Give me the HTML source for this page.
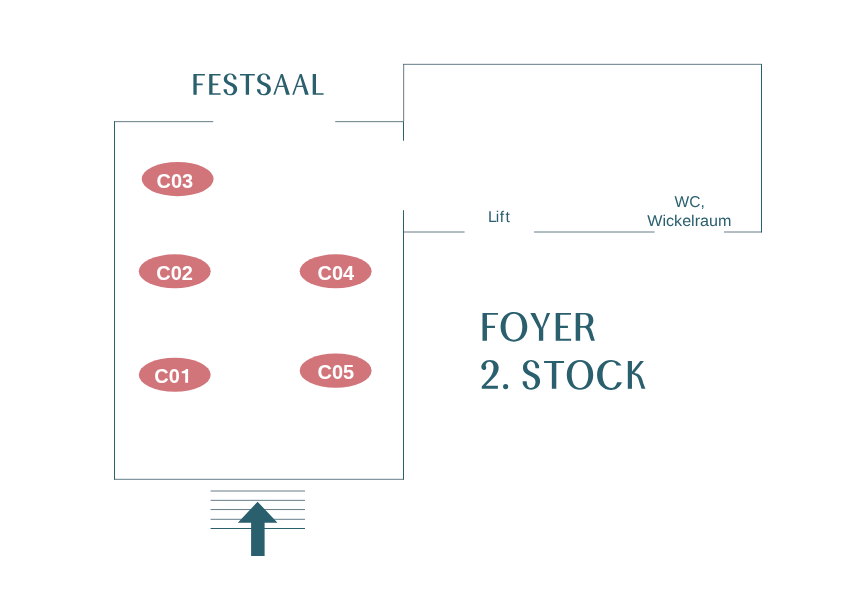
<!DOCTYPE html>
<html lang="de">
<head>
<meta charset="utf-8">
<title>Festsaal / Foyer 2. Stock</title>
<style>
  html, body { margin: 0; padding: 0; background: #ffffff; }
  body { width: 842px; height: 595px; overflow: hidden; font-family: "Liberation Sans", sans-serif; }
  svg { display: block; position: absolute; left: 0; top: 0; will-change: transform; }
  .ln { stroke: #325161; stroke-width: 0.75; fill: none; }
  .dk { stroke: #2a5f6e; stroke-width: 1; fill: none; }
  .pin { fill: #d1757a; }
  .pt { font-family: "Liberation Sans", sans-serif; font-weight: bold; font-size: 20px; fill: #ffffff; }
  .lb { font-family: "Liberation Sans", sans-serif; font-size: 15.6px; fill: #2a5f6e; text-rendering: geometricPrecision; }
  .hd { fill: #2a5f6e; fill-rule: evenodd; }
</style>
</head>
<body>
<svg width="842" height="595" viewBox="0 0 842 595">
  <defs>
    <g id="g70"><path d="M0,-100H56V-93H16V-54H45V-46H16V0H0Z"/></g>
    <g id="g69"><path d="M0,-100H55V-93H16V-54H44V-46H16V-7H55.5V0H0Z"/></g>
    <g id="g76"><path d="M0,-100H16V-7H53V0H0Z"/></g>
    <g id="g84"><path d="M0,-100H72V-93H44V0H28V-93H0Z"/></g>
    <g id="g65"><path d="M0,0L37,-100L46,-100L80.5,0L62.5,0L52.4,-37L21.9,-37L9,0Z M39,-86L50.5,-44L24.4,-44Z"/></g>
    <g id="g83"><path d="M59,-74L59,-83C54,-96 44,-103.5 31,-103.5C13,-103.5 1,-92 1,-76C1,-60 12,-53 27,-46C40,-40 46,-35 46,-25C46,-12 40,-3 29,-3C20,-3 15,-10 14.5,-27L0,-27L0,-19C4,-6 14,3 30,3C49,3 62.5,-9 62.5,-28C62.5,-44 52,-51 37,-58C23,-64 16,-68 16,-78C16,-90 22,-98 31,-98C40,-98 45,-90 46,-74Z"/></g>
    <g id="g79"><path d="M48,-103.5C76,-103.5 96,-82 96,-50C96,-18 76,3.5 48,3.5C20,3.5 0,-18 0,-50C0,-82 20,-103.5 48,-103.5ZM48,-97C29.5,-97 17.8,-78 17.8,-50C17.8,-22 29.5,-3 48,-3C66.5,-3 78.2,-22 78.2,-50C78.2,-78 66.5,-97 48,-97Z"/></g>
    <g id="g67"><path d="M88,-84C80,-96 67,-103.8 51,-103.8C21,-103.8 0,-82 0,-50C0,-18 21,3.9 51,3.9C68,3.9 81,-4 89.5,-23.5L72,-23.5C68,-10 62,-3 53,-3C32,-3 19.8,-22 19.8,-50C19.8,-78 32,-97 53,-97C61,-97 67,-92 70,-84Z"/></g>
    <g id="g89"><path d="M0,-100H17.5L41.5,-47L59.5,-100H71.5L46.5,-43.5V0H31V-42.5Z"/></g>
    <g id="g82"><path d="M0,-100H34C53,-100 63.5,-90 63.5,-74C63.5,-58 52,-46.5 34,-46.5H16V0H0ZM16,-94V-53H30C41,-53 47,-60 47,-73C47,-86 41,-94 30,-94Z"/><path d="M33,-53L44,-53C50,-50 54,-44 56,-39C59,-32 61,-25 62.5,-19.5L69,0H55.5L51.5,-11C49,-20 47,-26 45,-30.5C42,-38 38,-44 33,-47Z"/></g>
    <g id="g75"><path d="M0,-100H15V0H0Z"/><path d="M44.8,-100H58L22,-55L15,-53V-62Z"/><path d="M15,-53C22,-50 27,-48 30.7,-46C35,-43 37.5,-36 39.4,-31C42,-24 44,-17 46,-11L49.5,0H63.5L55.7,-20C53,-30 51,-37 48,-42C45,-47 41,-51 37,-53C31,-56 25,-57.5 18.7,-58L15,-58Z"/></g>
    <g id="g50"><path d="M0.7,-78C0.7,-92 14,-103.8 31,-103.8C51,-103.8 63,-92 63,-76C63,-62 56,-52 48.5,-43C40,-33 29,-23 16.3,-11.3H60.3V0H2.2V-9L3.3,-10.2C15,-22 23,-30 27,-35.3C36,-46 44.6,-60 44.6,-76C44.6,-89 38,-97.3 29,-97.3C22,-97.3 17,-92 16,-84C18,-80 19,-76 17.5,-72C16,-68 12,-67 8,-68C3,-69.5 0.7,-73 0.7,-78Z"/></g>
    <g id="g46"><path d="M9.5,-17.3A9.3,9.3 0 1 1 9.5,1.3A9.3,9.3 0 1 1 9.5,-17.3Z"/></g>
  </defs>
  <!-- Festsaal room -->
  <g id="festsaal">
    <line class="dk" x1="114.5" y1="121.3" x2="114.5" y2="479.6"/>
    <line class="ln" x1="114" y1="121.65" x2="213.2" y2="121.65"/>
    <line class="ln" x1="335.2" y1="121.65" x2="403.5" y2="121.65"/>
    <line class="dk" x1="403.5" y1="121.3" x2="403.5" y2="140.7"/>
    <line class="dk" x1="403.5" y1="210.2" x2="403.5" y2="479.6"/>
    <line class="ln" x1="114" y1="479.3" x2="404" y2="479.3"/>
  </g>
  <!-- Foyer side room -->
  <g id="room">
    <line class="ln" x1="403.67" y1="64.1" x2="403.67" y2="121.3"/>
    <line class="ln" x1="403.1" y1="64.33" x2="762" y2="64.33"/>
    <line class="dk" x1="761.5" y1="64.1" x2="761.5" y2="232.4"/>
    <line class="ln" x1="403.5" y1="232" x2="464.6" y2="232"/>
    <line class="ln" x1="534" y1="232" x2="654.6" y2="232"/>
    <line class="ln" x1="724.1" y1="232" x2="762" y2="232"/>
  </g>
  <!-- Stairs -->
  <g id="stairs">
    <line class="ln" x1="210.6" y1="491" x2="305" y2="491"/>
    <line class="ln" x1="210.6" y1="500.35" x2="305" y2="500.35"/>
    <line class="ln" x1="210.6" y1="509.55" x2="305" y2="509.55"/>
    <line class="ln" x1="210.6" y1="519.3" x2="305" y2="519.3"/>
    <line class="dk" x1="210.6" y1="528.5" x2="305" y2="528.5"/>
    <polygon fill="#2a5f6e" points="257.6,501.7 277.5,522.8 264.6,522.8 264.6,556 251.1,556 251.1,522.8 237.8,522.8"/>
  </g>
  <!-- Pins -->
  <g id="pins">
    <ellipse class="pin" cx="177.65" cy="179.05" rx="35.95" ry="17.1"/>
    <ellipse class="pin" cx="174.75" cy="271.35" rx="35.95" ry="17"/>
    <ellipse class="pin" cx="174.75" cy="374.7" rx="35.95" ry="17"/>
    <ellipse class="pin" cx="335.65" cy="271.35" rx="35.95" ry="17"/>
    <ellipse class="pin" cx="335.65" cy="370.65" rx="35.95" ry="17.1"/>
    <text class="pt" x="174.8" y="188.2" text-anchor="middle">C03</text>
    <text class="pt" x="174.6" y="280.2" text-anchor="middle">C02</text>
    <text class="pt" x="154.26" y="383.3">C0</text>
    <path fill="#ffffff" d="M188.1,369.1V382.8H185.2V373.2H181.7V371.4C183.6,371.2 185.4,370.5 186.0,369.1Z"><title>1</title></path>
    <text class="pt" x="335.9" y="280.2" text-anchor="middle">C04</text>
    <text class="pt" x="335.8" y="378.8" text-anchor="middle">C05</text>
  </g>
  <!-- Labels -->
  <g id="labels">
    <text class="lb" x="487.96 495.66 499.76 505.5" y="222.1">Lift</text>
    <text class="lb" x="674.5" y="206.7" textLength="30.2" lengthAdjust="spacingAndGlyphs">WC,</text>
    <text class="lb" x="647.2" y="225.8" textLength="84.3" lengthAdjust="spacingAndGlyphs">Wickelraum</text>
  </g>
  <!-- Headings: FESTSAAL / FOYER / 2. STOCK drawn as vector glyphs -->
  <g id="headings" class="hd" role="img" aria-label="FESTSAAL FOYER 2. STOCK">
    <use href="#g70" transform="translate(193.4,94.7) scale(0.206,0.206)"/>
    <use href="#g69" transform="translate(209.2,94.7) scale(0.206,0.206)"/>
    <use href="#g83" transform="translate(223.6,94.7) scale(0.2163,0.206)"/>
    <use href="#g84" transform="translate(240.0,94.7) scale(0.206,0.206)"/>
    <use href="#g83" transform="translate(257.0,94.7) scale(0.22248,0.206)"/>
    <use href="#g65" transform="translate(273.3,94.7) scale(0.206,0.206)"/>
    <use href="#g65" transform="translate(292.2,94.7) scale(0.206,0.206)"/>
    <use href="#g76" transform="translate(312.7,94.7) scale(0.206,0.206)"/>
    <use href="#g70" transform="translate(482.5,340.7) scale(0.278,0.278)"/>
    <use href="#g79" transform="translate(500.6,340.7) scale(0.278,0.278)"/>
    <use href="#g89" transform="translate(530.3,340.7) scale(0.278,0.278)"/>
    <use href="#g69" transform="translate(555.7,340.7) scale(0.278,0.278)"/>
    <use href="#g82" transform="translate(575.7,340.7) scale(0.278,0.278)"/>
    <use href="#g50" transform="translate(481.15,388.8) scale(0.278,0.278)"/>
    <use href="#g46" transform="translate(503.0,388.8) scale(0.278,0.278)"/>
    <use href="#g83" transform="translate(522.7,388.8) scale(0.278,0.278)"/>
    <use href="#g84" transform="translate(544.06,388.8) scale(0.278,0.278)"/>
    <use href="#g79" transform="translate(566.8,388.8) scale(0.27522,0.278)"/>
    <use href="#g67" transform="translate(597.07,388.8) scale(0.278,0.278)"/>
    <use href="#g75" transform="translate(627.8,388.8) scale(0.278,0.278)"/>
  </g>
</svg>
</body>
</html>
